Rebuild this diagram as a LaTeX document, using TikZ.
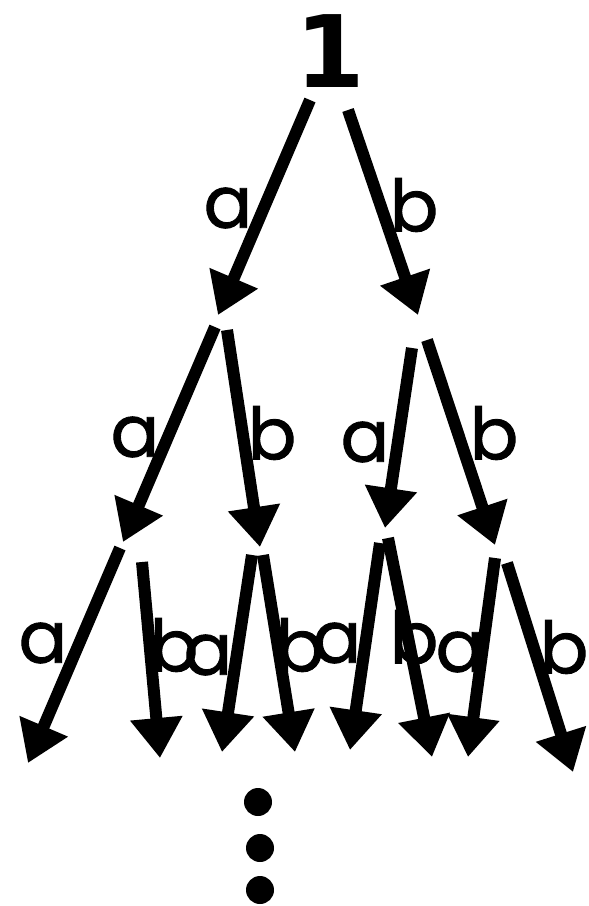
\documentclass[tikz,border=0pt]{standalone}
\usepackage{fontspec}
\setmainfont{Poppins}
\newfontfamily\onefont{DejaVu Sans}
\newfontfamily\lblfont[FakeBold=1.2]{Poppins}
\usetikzlibrary{arrows.meta}
\tikzset{
  edge/.style={line width=12pt, -{Triangle[length=40pt,width=50pt]}},
  lbl/.style={font=\lblfont\fontsize{72}{72}\selectfont, inner sep=0pt},
  dot/.style={circle, fill=black, minimum size=28pt, inner sep=0pt}
}
\begin{document}
\begin{tikzpicture}[x=1pt,y=-1pt]
\useasboundingbox (0,0) rectangle (589,906);
\node[font=\onefont\bfseries\fontsize{100}{100}\selectfont, inner sep=0pt] (root) at (330,51) {1};
% level 1
\coordinate (s1a) at (310,100); \coordinate (t1a) at (218,315);
\coordinate (s1b) at (348,110); \coordinate (t1b) at (418,315);
\draw[edge] (s1a) -- (t1a);
\draw[edge] (s1b) -- (t1b);
\node[lbl] (l1a) at (228,208) {a};
\node[lbl] (l1b) at (414,205) {b};
% level 2
\coordinate (s2aa) at (215,327); \coordinate (t2aa) at (123,542);
\coordinate (s2ab) at (227,330); \coordinate (t2ab) at (260,547);
\coordinate (s2ba) at (412,348); \coordinate (t2ba) at (385,528);
\coordinate (s2bb) at (427,340); \coordinate (t2bb) at (495,545);
\draw[edge] (s2aa) -- (t2aa);
\draw[edge] (s2ab) -- (t2ab);
\draw[edge] (s2ba) -- (t2ba);
\draw[edge] (s2bb) -- (t2bb);
\node[lbl] (l2aa) at (135,437) {a};
\node[lbl] (l2ab) at (272,433) {b};
\node[lbl] (l2ba) at (365,442) {a};
\node[lbl] (l2bb) at (494,433) {b};
% level 3
\coordinate (s3a) at (120,548); \coordinate (t3a) at (28,763);
\coordinate (s3b) at (142,562); \coordinate (t3b) at (160,758);
\coordinate (s3c) at (252,555); \coordinate (t3c) at (222,752);
\coordinate (s3d) at (263,555); \coordinate (t3d) at (295,752);
\coordinate (s3e) at (380,543); \coordinate (t3e) at (350,750);
\coordinate (s3f) at (388,538); \coordinate (t3f) at (432,757);
\coordinate (s3g) at (495,558); \coordinate (t3g) at (468,757);
\coordinate (s3h) at (507,563); \coordinate (t3h) at (573,772);
\node[lbl] (l3a) at (43,643) {a};
\node[lbl] (l3b) at (174,645) {b};
\node[lbl] (l3c) at (208,655) {a};
\node[lbl] (l3d) at (300,645) {b};
\node[lbl] (l3e) at (337,643) {a};
\node[lbl] (l3f) at (414,637) {b};
\node[lbl] (l3g) at (460,652) {a};
\node[lbl] (l3h) at (564,647) {b};
\draw[edge] (s3a) -- (t3a);
\draw[edge] (s3b) -- (t3b);
\draw[edge] (s3c) -- (t3c);
\draw[edge] (s3d) -- (t3d);
\draw[edge] (s3e) -- (t3e);
\draw[edge] (s3f) -- (t3f);
\draw[edge] (s3g) -- (t3g);
\draw[edge] (s3h) -- (t3h);
% dots
\node[dot] (d1) at (258,802) {};
\node[dot] (d2) at (260,848) {};
\node[dot] (d3) at (260,890) {};
\end{tikzpicture}
\end{document}
